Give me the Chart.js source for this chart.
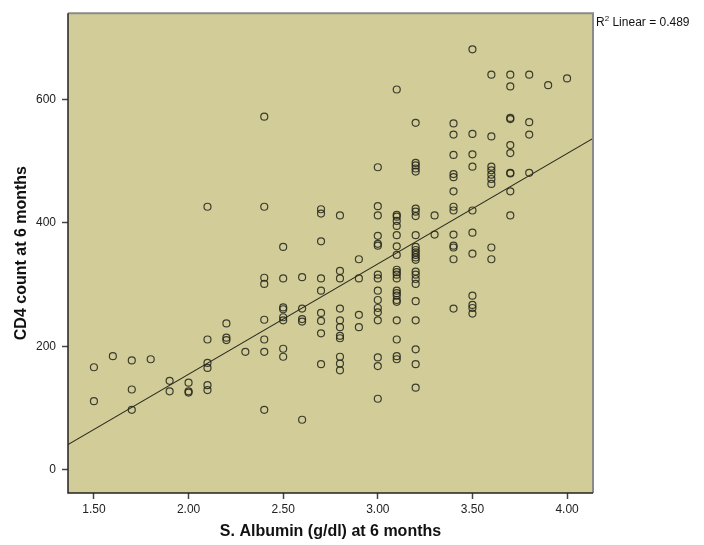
<!DOCTYPE html>
<html><head><meta charset="utf-8">
<script src="https://cdn.jsdelivr.net/npm/chart.js@4/dist/chart.umd.min.js"></script>
<style>html,body{margin:0;padding:0;background:#fff}#wrap{width:704px;height:545px;position:relative}</style>
</head><body><div id="wrap"><canvas id="c"></canvas></div>
<script>
// Albumin levels (g/dl) and the CD4 counts observed at each level
const albuminLevels = [1.5,1.6,1.7,1.8,1.9,2.0,2.1,2.2,2.3,2.4,2.5,2.6,2.7,2.8,2.9,3.0,3.1,3.2,3.3,3.4,3.5,3.6,3.7,3.8,3.9,4.0];
const cd4AtLevel = [
  [166,111],
  [184],
  [177,130,97],
  [179],
  [144,127],
  [141,127,125],
  [426,211,173,165,137,129],
  [237,214,210],
  [191],
  [572,426,311,301,243,211,191,97],
  [361,310,263,260,247,242,196,183],
  [312,261,244,240,81],
  [422,415,370,310,290,254,241,221,171],
  [412,322,310,261,242,231,217,213,183,172,161],
  [341,310,251,231],
  [490,427,412,379,366,363,316,310,290,275,262,255,242,182,168,115],
  [616,413,410,403,395,380,362,348,324,320,316,310,290,286,282,275,272,242,211,184,179],
  [562,497,493,488,483,423,418,411,380,361,356,352,348,344,340,321,316,309,301,273,242,195,171,133],
  [412,381],
  [561,543,510,479,474,451,426,420,381,363,360,341,261],
  [681,544,511,491,420,384,350,282,267,262,253],
  [640,540,491,485,478,471,463,360,341],
  [640,621,570,568,526,513,481,480,451,412],
  [640,563,543,481],
  [623],
  [634]
];
const xTickValues = [1.5,2.0,2.5,3.0,3.5,4.0];
const yTickValues = [0,200,400,600];
const fitIntercept = -203;
const fitSlope = 178.8;
const r2Text = "Linear = 0.489";
const xTitle = "S. Albumin (g/dl) at 6 months";
const yTitle = "CD4 count at 6 months";

const X_MIN = 1.363, X_MAX = 4.137, Y_MIN = -37.7, Y_MAX = 739.6;

const points = [];
albuminLevels.forEach((a, i) => cd4AtLevel[i].forEach(v => points.push({x: a, y: v})));
const fitLine = [X_MIN, X_MAX].map(x => ({x: x, y: fitIntercept + fitSlope * x}));

const FONT = "'Liberation Sans', Arial, sans-serif";

const framePlugin = {
  id: 'frame',
  beforeDatasetsDraw(chart) {
    const {ctx, chartArea: a} = chart;
    ctx.save();
    ctx.fillStyle = '#D2CD98';
    ctx.fillRect(a.left, a.top, a.right - a.left, a.bottom - a.top);
    ctx.restore();
  },
  afterDraw(chart) {
    const {ctx, chartArea: a} = chart;
    ctx.save();
    ctx.strokeStyle = '#8a8a8a';
    ctx.lineWidth = 2;
    ctx.beginPath();
    ctx.moveTo(a.left, a.top); ctx.lineTo(a.right, a.top); ctx.lineTo(a.right, a.bottom);
    ctx.stroke();
    ctx.strokeStyle = '#222';
    ctx.lineWidth = 1.5;
    ctx.beginPath();
    ctx.moveTo(a.left, a.top); ctx.lineTo(a.left, a.bottom); ctx.lineTo(a.right, a.bottom);
    ctx.stroke();
    // R squared label
    ctx.fillStyle = '#111';
    ctx.textBaseline = 'alphabetic';
    ctx.textAlign = 'left';
    const x0 = a.right + 3, yb = 26;
    ctx.font = '12px ' + FONT;
    ctx.fillText('R', x0, yb);
    const wR = ctx.measureText('R').width;
    ctx.font = '8px ' + FONT;
    ctx.fillText('2', x0 + wR, yb - 5);
    const w2 = ctx.measureText('2').width;
    ctx.font = '12px ' + FONT;
    ctx.fillText(' ' + r2Text, x0 + wR + w2, yb);
    ctx.restore();
  }
};

new Chart(document.getElementById('c'), {
  type: 'scatter',
  data: {
    datasets: [
      {
        type: 'line',
        data: fitLine,
        borderColor: '#2a2a20',
        borderWidth: 1.1,
        pointRadius: 0,
        fill: false,
        order: 1
      },
      {
        data: points,
        pointStyle: 'circle',
        pointRadius: 3.5,
        pointBackgroundColor: 'rgba(0,0,0,0)',
        pointBorderColor: 'rgba(35,35,25,0.85)',
        pointBorderWidth: 1.2,
        order: 2
      }
    ]
  },
  options: {
    responsive: true,
    maintainAspectRatio: false,
    animation: false,
    events: [],
    layout: {padding: {left: 8, top: 10, right: 111, bottom: 1}},
    plugins: {legend: {display: false}, tooltip: {enabled: false}},
    scales: {
      x: {
        type: 'linear',
        min: X_MIN, max: X_MAX,
        afterBuildTicks: s => { s.ticks = xTickValues.map(v => ({value: v})); },
        afterFit: s => { s.height = 51; },
        grid: {drawOnChartArea: false, drawTicks: true, tickLength: 6, color: '#444', tickWidth: 1.5},
        border: {display: false},
        ticks: {color: '#222', padding: 3, font: {family: FONT, size: 12}, maxRotation: 0,
                callback: v => Number(v).toFixed(2)},
        title: {display: true, text: xTitle, color: '#111', font: {family: FONT, size: 16, weight: 'bold'}, padding: {top: 4, bottom: 3}}
      },
      y: {
        type: 'linear',
        min: Y_MIN, max: Y_MAX,
        afterBuildTicks: s => { s.ticks = yTickValues.map(v => ({value: v})); },
        afterFit: s => { s.width = 60; },
        grid: {drawOnChartArea: false, drawTicks: true, tickLength: 6, color: '#444', tickWidth: 1.5},
        border: {display: false},
        ticks: {color: '#222', padding: 6, font: {family: FONT, size: 12}, callback: v => String(v)},
        title: {display: true, text: yTitle, color: '#111', font: {family: FONT, size: 16, weight: 'bold'}, padding: {top: 4, bottom: 4}}
      }
    }
  },
  plugins: [framePlugin]
});
</script>
</body></html>
